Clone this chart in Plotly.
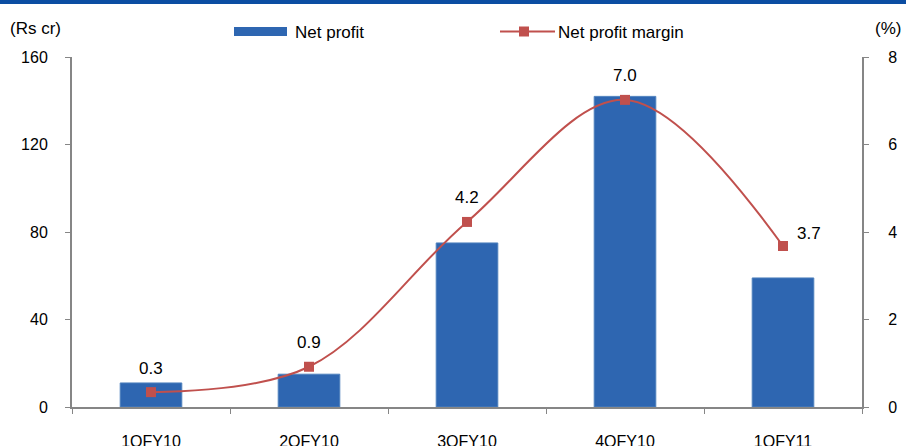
import plotly.graph_objects as go

categories = ["1QFY10", "2QFY10", "3QFY10", "4QFY10", "1QFY11"]
net_profit = [11, 15, 75, 142, 59]
margin = [0.34, 0.92, 4.23, 7.02, 3.68]
margin_labels = ["0.3", "0.9", "4.2", "7.0", "3.7"]
left_ticks = [0, 40, 80, 120, 160]
right_ticks = [0, 2, 4, 6, 8]

BLUE = "#2E66B1"
RED = "#C0504D"
GRAY = "#868686"
FONT = "Liberation Sans, Arial, sans-serif"

fig = go.Figure()
fig.add_trace(go.Bar(x=categories, y=net_profit, marker=dict(color=BLUE, line=dict(color="#4F81BD", width=1)),
                     width=0.39, name="Net profit", showlegend=False, yaxis="y"))
fig.add_trace(go.Scatter(x=categories, y=margin, mode="lines+markers", yaxis="y2",
                         line=dict(color=RED, width=2, shape="spline", smoothing=1.0),
                         marker=dict(symbol="square", size=10, color=RED),
                         name="Net profit margin", showlegend=False))

annotations = []
for i, (c, v, t) in enumerate(zip(categories, margin, margin_labels)):
    last = i == len(categories) - 1
    annotations.append(dict(x=c, y=v, xref="x", yref="y2", text=t, showarrow=False,
                            font=dict(size=17, color="black", family=FONT),
                            xshift=26 if last else 0, yshift=13 if last else 24))


def px(x):
    return (x - 72) / 790


def py(y):
    return 1 + (57 - y) / 350


# axis titles
annotations.append(dict(x=px(8), y=py(28), xref="paper", yref="paper", text="(Rs cr)",
                        showarrow=False, xanchor="left", yanchor="middle",
                        font=dict(size=17, color="black", family=FONT)))
annotations.append(dict(x=px(903), y=py(28), xref="paper", yref="paper", text="(%)",
                        showarrow=False, xanchor="right", yanchor="middle",
                        font=dict(size=17, color="black", family=FONT)))
# legend texts
annotations.append(dict(x=px(293), y=py(32), xref="paper", yref="paper", text="Net profit",
                        showarrow=False, xanchor="left", yanchor="middle",
                        font=dict(size=17, color="black", family=FONT)))
annotations.append(dict(x=px(556), y=py(32), xref="paper", yref="paper", text="Net profit margin",
                        showarrow=False, xanchor="left", yanchor="middle",
                        font=dict(size=17, color="black", family=FONT)))

shapes = [
    # top rule
    dict(type="rect", xref="paper", yref="paper", x0=px(0), x1=px(906), y0=py(4), y1=py(0),
         fillcolor="#0B4DA2", line=dict(width=0)),
    # legend: bar swatch
    dict(type="rect", xref="paper", yref="paper", x0=px(234), x1=px(287), y0=py(36), y1=py(27),
         fillcolor=BLUE, line=dict(width=0)),
    # legend: line swatch
    dict(type="line", xref="paper", yref="paper", x0=px(500), x1=px(555), y0=py(31.5), y1=py(31.5),
         line=dict(color=RED, width=2)),
    dict(type="rect", xref="paper", yref="paper", x0=px(519), x1=px(529), y0=py(36.5), y1=py(26.5),
         fillcolor=RED, line=dict(width=0)),
]

fig.update_layout(
    width=906, height=446,
    margin=dict(l=72, r=44, t=57, b=39),
    plot_bgcolor="white", paper_bgcolor="white",
    font=dict(family=FONT, size=16, color="black"),
    showlegend=False,
    xaxis=dict(type="category", showline=True, linecolor=GRAY, linewidth=2, automargin=False,
               ticks="outside", tickson="boundaries", ticklen=5, tickcolor=GRAY, tickwidth=1,
               showgrid=False, ticklabelstandoff=19, tickfont=dict(size=16)),
    yaxis=dict(range=[0, 160], tickvals=left_ticks, showline=True, linecolor=GRAY, linewidth=2,
               ticks="outside", ticklen=5, tickcolor=GRAY, tickwidth=1, showgrid=False, automargin=False,
               zeroline=False, ticklabelstandoff=14, tickfont=dict(size=16)),
    yaxis2=dict(range=[0, 8], tickvals=right_ticks, overlaying="y", side="right", showline=True,
                linecolor=GRAY, linewidth=2, ticks="outside", ticklen=5, tickcolor=GRAY, tickwidth=1,
                showgrid=False, zeroline=False, ticklabelstandoff=16, tickfont=dict(size=16), automargin=False),
    annotations=annotations,
    shapes=shapes,
)

fig.write_html("out.html", config={"displayModeBar": False},
               post_script="document.body.style.margin='0';document.body.style.overflow='hidden';")
